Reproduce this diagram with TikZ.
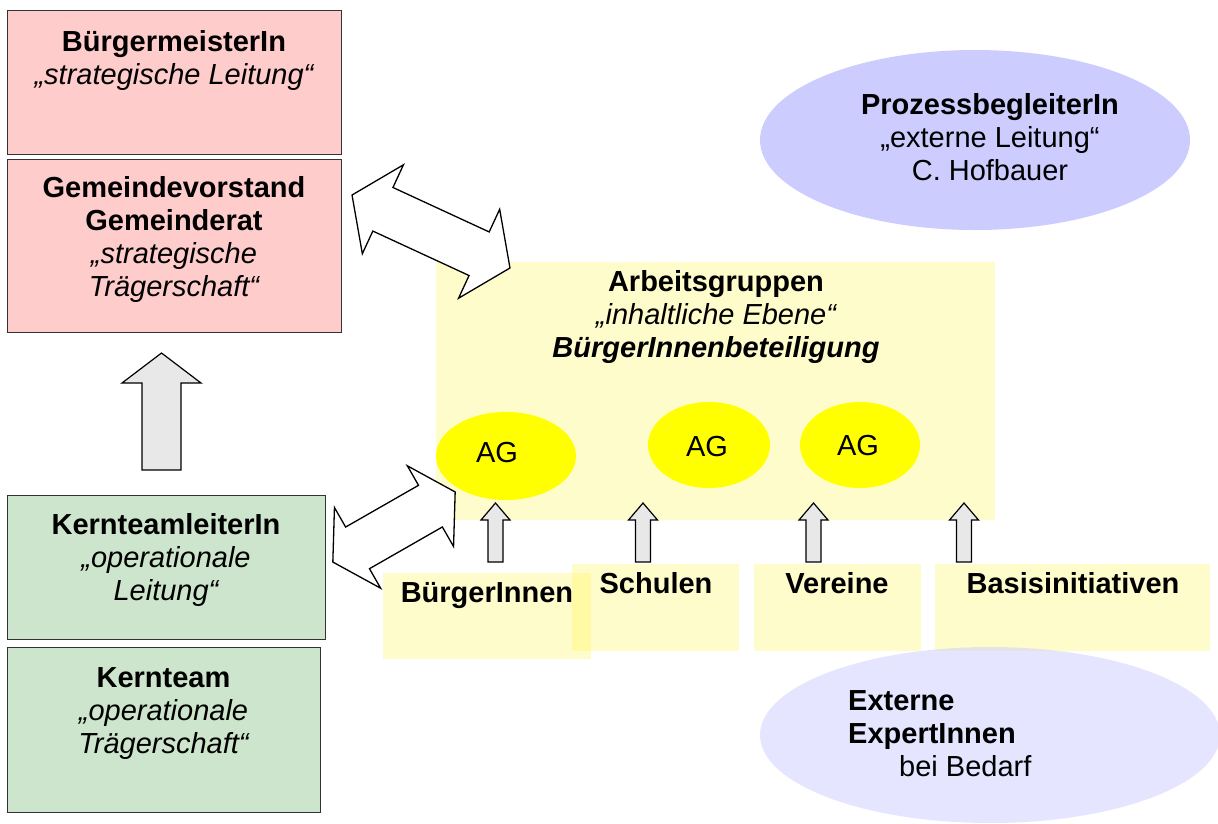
\documentclass[tikz,border=0pt]{standalone}
\usepackage{fontspec}
\setmainfont{Liberation Sans}
\usetikzlibrary{shapes.geometric}
\definecolor{pinkf}{HTML}{FFCCCC}
\definecolor{greenf}{HTML}{CCE5CC}
\definecolor{lavf}{HTML}{CCCCFF}
\definecolor{arrf}{HTML}{E8E8E8}
\definecolor{agf}{HTML}{FFFF00}
% #1 x, #2 y, #3 angle, #4 half length, #5 head length, #6 head half width, #7 shaft half width
\newcommand\blockdbl[7]{%
  \draw[dblarr, shift={(#1,#2)}, rotate=#3]
    (-#4,0) -- (-#4+#5,-#6) -- (-#4+#5,-#7) -- (#4-#5,-#7) -- (#4-#5,-#6) -- (#4,0)
    -- (#4-#5,#6) -- (#4-#5,#7) -- (-#4+#5,#7) -- (-#4+#5,#6) -- cycle;}
\begin{document}
\begin{tikzpicture}[x=1pt,y=-1pt,
  box/.style={rectangle, draw=black!80, line width=1.1pt, anchor=north west, inner sep=0},
  pinkbox/.style={box, fill=pinkf},
  greenbox/.style={box, fill=greenf},
  ybox/.style={rectangle, fill=yellow, fill opacity=0.2, anchor=north west, inner sep=0},
  agell/.style={ellipse, fill=agf, inner sep=0},
  txt/.style={align=center, inner sep=0, font=\fontsize{29}{33}\selectfont},
  blockarr/.style={draw=black, fill=arrf, line width=1.2pt, line join=miter},
  dblarr/.style={draw=black, fill=white, line width=1.3pt, line join=miter},
  smallup/.pic={\draw[blockarr] (-7.5,0) -- (-7.5,-42) -- (-14.5,-42) -- (0,-59) -- (14.5,-42) -- (7.5,-42) -- (7.5,0) -- cycle;}
]
\fill[white] (0,0) rectangle (1218,823);
\useasboundingbox (0,0) rectangle (1218,823);

% left column
\node[pinkbox, minimum width=334, minimum height=144] (bm) at (7,10) {};
\node[pinkbox, minimum width=334, minimum height=173] (gv) at (7,159) {};
\node[greenbox, minimum width=318, minimum height=144] (ktl) at (7,495) {};
\node[greenbox, minimum width=313, minimum height=165] (kt) at (7,647) {};

\node[txt, anchor=north] (bmt) at (174,30) {\textbf{BürgermeisterIn}\\\itshape „strategische Leitung“};
\node[txt, anchor=north] (gvt) at (174,176) {\textbf{Gemeindevorstand}\\\textbf{Gemeinderat}\\\itshape „strategische\\\itshape Trägerschaft“};
\node[txt, anchor=north] (ktlt) at (166,513) {\textbf{KernteamleiterIn}\\\itshape „operationale\\\itshape Leitung“};
\node[txt, anchor=north] (ktt) at (163.5,667) {\textbf{Kernteam}\\\itshape „operationale\\\itshape Trägerschaft“};

% big up arrow
\coordinate (bigA) at (161.5,470);
\draw[blockarr, shift={(bigA)}] (-19.5,0) -- (-19.5,-87) -- (-39.5,-87) -- (0,-117) -- (39.5,-87) -- (19.5,-87) -- (19.5,0) -- cycle;

% Arbeitsgruppen
\node[ybox, minimum width=559, minimum height=258] (ag) at (436,262) {};
\node[txt, anchor=north] (agt) at (716,270) {\textbf{Arbeitsgruppen}\\\itshape „inhaltliche Ebene“\\\bfseries\itshape BürgerInnenbeteiligung};
\node[agell, minimum width=140, minimum height=88] (ag1) at (506,456) {};
\node[agell, minimum width=122, minimum height=86] (ag2) at (709,445) {};
\node[agell, minimum width=120, minimum height=86] (ag3) at (860,445) {};
\node[txt] (ag1t) at (497,453) {AG};
\node[txt] (ag2t) at (707,447) {AG};
\node[txt] (ag3t) at (858,446) {AG};

% bottom boxes
\node[ybox, minimum width=208, minimum height=86] (bi) at (383,573) {};
\node[ybox, minimum width=167, minimum height=87] (sc) at (572,564) {};
\node[ybox, minimum width=167, minimum height=87] (ve) at (754,564) {};
\node[ybox, minimum width=275, minimum height=87] (ba) at (935,564) {};
\node[txt, anchor=north] (bit) at (487,582) {\textbf{BürgerInnen}};
\node[txt, anchor=north] (sct) at (656,572) {\textbf{Schulen}};
\node[txt, anchor=north] (vet) at (837,572) {\textbf{Vereine}};
\node[txt, anchor=north] (bat) at (1073,572) {\textbf{Basisinitiativen}};

% small up arrows
\pic at (495.5,562) {smallup};
\pic at (643,562) {smallup};
\pic at (813.5,562) {smallup};
\pic at (964,562) {smallup};

% ellipses right
\node[ellipse, fill=lavf, minimum width=430, minimum height=180, inner sep=0] (pb) at (975,140) {};
\node[txt, anchor=north] (pbt) at (990,93) {\textbf{ProzessbegleiterIn}\\„externe Leitung“\\C. Hofbauer};
\node[ellipse, fill=lavf, fill opacity=0.5, minimum width=460, minimum height=176, inner sep=0] (ex) at (990,735) {};
\node[txt, anchor=north west, align=left] (ext) at (848,690) {\textbf{Externe}\\\textbf{ExpertInnen}\\\hspace*{51pt}bei Bedarf};

% double arrows
\blockdbl{431}{231.5}{-24.8}{87}{34}{49}{24}
\blockdbl{394}{527}{29.8}{70.5}{28.5}{46.5}{24}
\end{tikzpicture}
\end{document}
